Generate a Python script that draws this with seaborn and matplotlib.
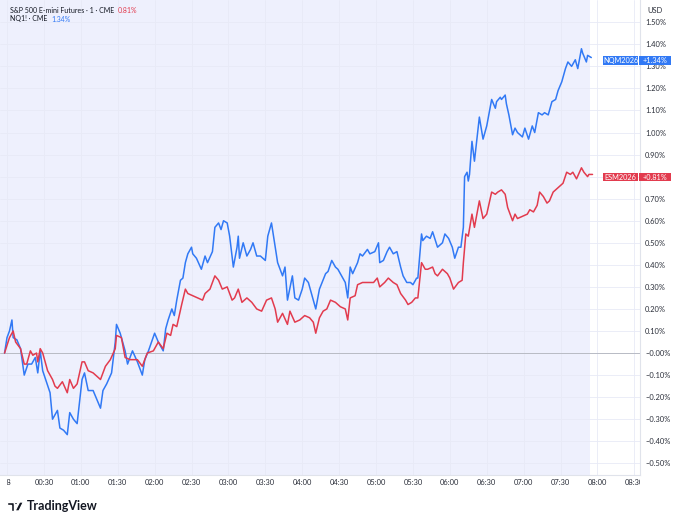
import pandas as pd
import matplotlib
matplotlib.use("Agg")
import matplotlib.pyplot as plt
import seaborn as sns
from matplotlib.patches import Rectangle, Circle, Polygon
from matplotlib.transforms import Bbox, TransformedBbox, blended_transform_factory

# minutes after 00:00 and % change
es_minutes = [-2, 2, 5, 7, 11, 14, 16, 19, 21, 24,
              25, 27, 29, 33, 37, 39, 41, 45, 49, 51,
              54, 57, 61, 63, 66, 70, 76, 80, 84, 88,
              89, 93, 96, 100, 106, 110, 114, 119, 123, 127,
              130, 133, 135, 138, 142, 145, 147, 151, 155, 159,
              161, 165, 169, 172, 175, 179, 183, 185, 188, 191,
              195, 199, 203, 207, 211, 215, 218, 220, 224, 228,
              230, 234, 238, 242, 246, 249, 251, 254, 257, 260,
              263, 267, 271, 275, 277, 279, 283, 285, 289, 293,
              298, 301, 303, 307, 310, 314, 317, 320, 324, 326,
              329, 332, 334, 337, 340, 342, 346, 348, 350, 354,
              358, 360, 363, 367, 370, 371, 373, 375, 378, 380,
              384, 387, 390, 394, 397, 399, 402, 405, 407, 411,
              413, 415, 419, 423, 425, 428, 431, 433, 436, 439,
              441, 444, 448, 452, 455, 458, 460, 463, 467, 469,
              472, 473, 476]
es_pct = [0.00, 0.07, 0.10, 0.05, 0.02, -0.05, -0.05, 0.01, -0.01, 0.00,
          -0.04, 0.02, 0.00, -0.08, -0.12, -0.15, -0.16, -0.13, -0.18, -0.12,
          -0.16, -0.14, -0.04, -0.04, -0.08, -0.09, -0.12, -0.06, -0.03, 0.02,
          0.08, 0.07, -0.02, -0.03, -0.03, -0.06, 0.00, 0.01, 0.05, 0.02,
          0.09, 0.08, 0.13, 0.12, 0.22, 0.29, 0.27, 0.26, 0.25, 0.24,
          0.27, 0.29, 0.35, 0.33, 0.29, 0.30, 0.24, 0.25, 0.29, 0.23,
          0.25, 0.23, 0.20, 0.19, 0.24, 0.25, 0.20, 0.14, 0.18, 0.13,
          0.19, 0.14, 0.15, 0.17, 0.16, 0.14, 0.09, 0.16, 0.19, 0.20,
          0.24, 0.23, 0.21, 0.20, 0.15, 0.25, 0.26, 0.31, 0.32, 0.32,
          0.32, 0.34, 0.30, 0.32, 0.34, 0.32, 0.31, 0.27, 0.24, 0.22,
          0.23, 0.25, 0.25, 0.41, 0.38, 0.38, 0.39, 0.36, 0.35, 0.38,
          0.36, 0.34, 0.29, 0.32, 0.33, 0.41, 0.54, 0.53, 0.63, 0.57,
          0.69, 0.61, 0.63, 0.73, 0.72, 0.73, 0.74, 0.72, 0.66, 0.60,
          0.63, 0.61, 0.62, 0.63, 0.65, 0.64, 0.67, 0.73, 0.71, 0.68,
          0.69, 0.73, 0.75, 0.77, 0.82, 0.81, 0.82, 0.79, 0.84, 0.82,
          0.80, 0.81, 0.81]

nq_minutes = [-2, 0, 2, 4, 5, 8, 11, 14, 17, 20,
              23, 25, 27, 29, 35, 37, 41, 43, 46, 49,
              51, 54, 57, 61, 63, 66, 70, 76, 78, 81,
              85, 88, 89, 92, 96, 98, 102, 106, 110, 112,
              115, 120, 123, 127, 129, 131, 134, 136, 138, 141,
              143, 145, 147, 150, 151, 154, 158, 161, 163, 167,
              169, 172, 174, 176, 179, 181, 184, 187, 188, 189,
              192, 195, 198, 200, 203, 206, 210, 212, 215, 218,
              220, 224, 226, 228, 232, 234, 237, 240, 242, 245,
              248, 251, 254, 259, 261, 264, 267, 269, 272, 275,
              277, 279, 281, 285, 287, 289, 293, 295, 299, 302,
              303, 306, 309, 311, 314, 317, 320, 322, 325, 328,
              330, 333, 334, 337, 338, 341, 344, 346, 350, 354,
              356, 359, 362, 364, 367, 369, 371, 372, 374, 375,
              376, 378, 380, 382, 384, 387, 390, 391, 394, 397,
              398, 401, 402, 405, 406, 408, 411, 413, 415, 419,
              421, 424, 427, 429, 432, 435, 437, 440, 443, 446,
              448, 451, 454, 456, 459, 462, 464, 467, 468, 471,
              472, 475]
nq_pct = [0.00, 0.07, 0.10, 0.15, 0.07, 0.06, 0.02, -0.10, -0.05, -0.05,
          -0.02, -0.09, 0.01, -0.08, -0.18, -0.30, -0.26, -0.34, -0.35, -0.37,
          -0.27, -0.30, -0.32, -0.12, -0.09, -0.17, -0.17, -0.25, -0.17, -0.14,
          -0.09, 0.05, 0.13, 0.09, 0.01, -0.05, 0.01, -0.04, -0.10, -0.03,
          0.01, 0.09, 0.05, 0.01, 0.11, 0.15, 0.20, 0.17, 0.24, 0.33,
          0.34, 0.41, 0.45, 0.48, 0.45, 0.43, 0.38, 0.44, 0.41, 0.46,
          0.57, 0.59, 0.56, 0.60, 0.59, 0.53, 0.39, 0.48, 0.53, 0.43,
          0.50, 0.44, 0.47, 0.50, 0.44, 0.44, 0.42, 0.53, 0.59, 0.48,
          0.41, 0.35, 0.39, 0.24, 0.35, 0.25, 0.24, 0.29, 0.34, 0.32,
          0.26, 0.20, 0.29, 0.36, 0.37, 0.42, 0.39, 0.38, 0.35, 0.32,
          0.25, 0.39, 0.36, 0.41, 0.45, 0.44, 0.47, 0.45, 0.46, 0.50,
          0.41, 0.42, 0.46, 0.48, 0.45, 0.46, 0.39, 0.35, 0.32, 0.32,
          0.31, 0.34, 0.34, 0.54, 0.51, 0.53, 0.52, 0.55, 0.48, 0.50,
          0.54, 0.52, 0.48, 0.43, 0.48, 0.48, 0.57, 0.80, 0.82, 0.78,
          0.81, 0.96, 0.87, 0.97, 1.07, 0.97, 1.03, 1.06, 1.15, 1.11,
          1.14, 1.16, 1.15, 1.17, 1.13, 1.08, 0.99, 1.02, 1.00, 0.98,
          1.02, 0.97, 1.03, 1.00, 1.09, 1.08, 1.09, 1.08, 1.14, 1.15,
          1.19, 1.23, 1.29, 1.32, 1.30, 1.33, 1.29, 1.38, 1.36, 1.32,
          1.35, 1.34]

assert len(es_minutes) == len(es_pct)
assert len(nq_minutes) == len(nq_pct)

time_ticks = [0, 30, 60, 90, 120, 150, 180, 210, 240, 270,
              300, 330, 360, 390, 420, 450, 480, 510]
time_labels = ["18", "00:30", "01:00", "01:30", "02:00", "02:30", "03:00", "03:30", "04:00",
               "04:30", "05:00", "05:30", "06:00", "06:30", "07:00", "07:30", "08:00", "08:30"]
pct_ticks = [-0.5, -0.4, -0.3, -0.2, -0.1, 0.0, 0.1, 0.2, 0.3, 0.4, 0.5,
             0.6, 0.7, 0.8, 0.9, 1.0, 1.1, 1.2, 1.3, 1.4, 1.5]
# 0.80% sits under the ES price tag, so it is not shown
pct_labels = ["\u22120.50%", "\u22120.40%", "\u22120.30%", "\u22120.20%", "\u22120.10%",
              "\u22120.00%", "0.10%", "0.20%", "0.30%", "0.40%", "0.50%",
              "0.60%", "0.70%", "", "0.90%", "1.00%", "1.10%", "1.20%",
              "1.30%", "1.40%", "1.50%"]

es_last, nq_last = es_pct[-1], nq_pct[-1]

RED = "#e23b4e"
BLUE = "#3179f5"
TXT = "#131722"
W, H = 680, 523

sns.set_style("white")
plt.rcParams["font.family"] = ["Lato", "DejaVu Sans"]

df = pd.concat([
    pd.DataFrame({"minute": nq_minutes, "pct": nq_pct, "symbol": "NQM2026"}),
    pd.DataFrame({"minute": es_minutes, "pct": es_pct, "symbol": "ESM2026"}),
])

fig = plt.figure(figsize=(W / 100, H / 100), dpi=100)
ax = fig.add_axes([0, 48 / H, 640 / W, 475 / H])

ax.set_xlim(-5.7, 514.6)
ax.set_ylim(-0.553, 1.601)

# session shading + grid
ax.axvspan(-5.7, 474, color="#eef0fd", lw=0, zorder=0.2)
ax.set_xticks(time_ticks, time_labels)
ax.set_yticks(pct_ticks, pct_labels)
ax.grid(True, color="#e8eaf6", lw=0.6)
ax.axhline(0, color="#b8bbc4", lw=0.7, zorder=1)

sns.lineplot(data=df, x="minute", y="pct", hue="symbol",
             hue_order=["NQM2026", "ESM2026"],
             palette={"NQM2026": BLUE, "ESM2026": RED},
             estimator=None, legend=False, lw=1.1, ax=ax)
ax.set_xlabel("")
ax.set_ylabel("")

ax.yaxis.tick_right()
ax.tick_params(axis="y", length=0, pad=3.6, labelsize=5.4, labelcolor="#2a2e39")
ax.tick_params(axis="x", length=0, pad=3.0, labelsize=5.4, labelcolor="#2a2e39")
for s in ["left", "top"]:
    ax.spines[s].set_visible(False)
for s in ["right", "bottom"]:
    ax.spines[s].set_color("#e0e3eb")
    ax.spines[s].set_linewidth(0.8)

# time labels are clipped to the pane like the original
clip = TransformedBbox(Bbox.from_extents(7 / 640, -1, 1, 1), ax.transAxes)
for lab in ax.get_xticklabels():
    lab.set_clip_on(True)
    lab.set_clip_box(clip)

# price tags on the scale
tr = blended_transform_factory(fig.transFigure, ax.transData)
h = 8.5 / 220.5
for name, last, col in [("NQM2026", nq_last, BLUE), ("ESM2026", es_last, RED)]:
    yc = last - 0.0125
    fig.patches.append(Rectangle((603 / W, yc - h / 2), 35 / W, h, transform=tr,
                                 facecolor=col, edgecolor="none", zorder=5))
    fig.patches.append(Rectangle((639 / W, yc - h / 2), 32 / W, h, transform=tr,
                                 facecolor=col, edgecolor="none", zorder=5))
    fig.text(620.5 / W, yc, name, transform=tr, ha="center", va="center",
             fontsize=5.3, color="white", zorder=6)
    fig.text(655 / W, yc, f"+{last:.2f}%", transform=tr, ha="center", va="center",
             fontsize=5.3, color="white", zorder=6)

# header
def fy(y):
    return 1 - y / H

renderer = fig.canvas.get_renderer()
t1 = fig.text(10 / W, fy(10.3), "S&P 500 E-mini Futures \u00b7 1 \u00b7 CME", fontsize=5.0,
              color=TXT, va="center")
t2 = fig.text(10 / W, fy(19), "NQ1! \u00b7 CME", fontsize=5.0, color=TXT, va="center")
x1 = t1.get_window_extent(renderer).x1
x2 = t2.get_window_extent(renderer).x1
fig.text((x1 + 3) / W, fy(10.3), f"{es_last:.2f}%", fontsize=5.0, color=RED, va="center")
fig.text((x2 + 4) / W, fy(19), f"{nq_last:.2f}%", fontsize=5.0, color=BLUE, va="center")
fig.text(647 / W, fy(10.7), "USD", fontsize=5.4, color="#2a2e39", va="center")

# TradingView mark
fig.patches.append(Polygon([(7 / W, fy(502)), (13.5 / W, fy(502)), (13.5 / W, fy(511)),
                            (10.5 / W, fy(511)), (10.5 / W, fy(505)), (7 / W, fy(505))],
                           closed=True, transform=fig.transFigure, facecolor=TXT, zorder=5))
fig.patches.append(Circle((16 / W, fy(503.6)), 1.6 / W, transform=fig.transFigure,
                          facecolor=TXT, zorder=5))
fig.patches.append(Polygon([(19.5 / W, fy(502)), (23.5 / W, fy(502)), (19 / W, fy(511)),
                            (15 / W, fy(511))],
                           closed=True, transform=fig.transFigure, facecolor=TXT, zorder=5))
fig.text(27 / W, fy(506.5), "TradingView", fontsize=9, fontweight="bold", color=TXT,
         va="center")

fig.savefig("out.png", dpi=100)
plt.close(fig)
